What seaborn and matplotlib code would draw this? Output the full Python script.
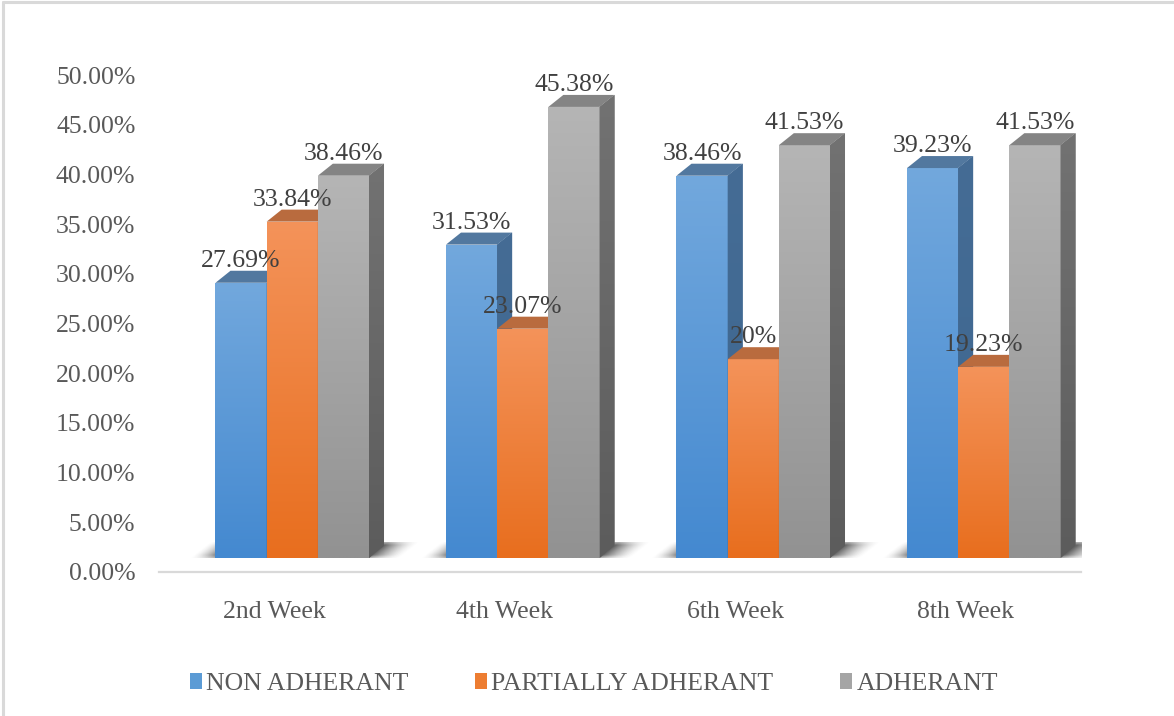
import numpy as np
import pandas as pd
import matplotlib
matplotlib.use("Agg")
import matplotlib.pyplot as plt
import seaborn as sns
from matplotlib.patches import Polygon, Patch
from matplotlib.lines import Line2D
from matplotlib.colors import to_rgb
from matplotlib.font_manager import FontProperties

# ---- data -------------------------------------------------------------
weeks = ["2nd Week", "4th Week", "6th Week", "8th Week"]
series = ["NON ADHERANT", "PARTIALLY ADHERANT", "ADHERANT"]
non_adherant = [27.69, 31.53, 38.46, 39.23]
partially_adherant = [33.84, 23.07, 20, 19.23]
adherant = [38.46, 45.38, 41.53, 41.53]
y_ticks = [0, 5, 10, 15, 20, 25, 30, 35, 40, 45, 50]

df = pd.DataFrame({
    "week": weeks * 3,
    "group": [s for s in series for _ in weeks],
    "pct": non_adherant + partially_adherant + adherant,
})

# ---- style ------------------------------------------------------------
legend_colors = ["#5b9bd5", "#ed7d31", "#a5a5a5"]
front_top = ["#72a8dd", "#f4935a", "#b5b5b5"]
front_bot = ["#4489d0", "#e86e1e", "#929292"]
side_top = ["#456c95", "#b4622f", "#727272"]
side_bot = ["#3d6790", "#a9582a", "#5c5c5c"]
roof = ["#52789f", "#b96b3e", "#848484"]

W, H, DPI = 1174, 716, 100
sns.set_style("white")
plt.rcParams["font.family"] = ["Liberation Serif", "DejaVu Serif"]
FS = 18.5
serif = FontProperties(family=["Liberation Serif", "DejaVu Serif"], size=FS)

fig = plt.figure(figsize=(W / DPI, H / DPI), dpi=DPI)
ax_l, ax_r, ax_t, ax_b = 159, 1081, 75, 572
ax = fig.add_axes([ax_l / W, 1 - ax_b / H, (ax_r - ax_l) / W, (ax_b - ax_t) / H])

sns.barplot(data=df, x="week", y="pct", hue="group", order=weeks,
            hue_order=series, palette=legend_colors, width=0.666,
            saturation=1, legend=False, ax=ax, errorbar=None,
            edgecolor="none", linewidth=0)

XLIM, YLIM = (-0.5, 3.5), (0, 50)
px_x = (ax_r - ax_l) / (XLIM[1] - XLIM[0])   # pixels per category unit
px_y = (ax_b - ax_t) / (YLIM[1] - YLIM[0])   # pixels per percent

LIFT = 14 / px_y      # bars stand on a floor slightly above the axis line
SHIFT = 18 / px_x     # floor depth pushes the bars to the right
DX, DY = 15 / px_x, 12 / px_y   # 3D depth offset


def vgrad(x0, x1, y0, y1, c_top, c_bot, clip, z):
    t = np.linspace(0, 1, 128)[:, None, None]
    arr = (1 - t) * np.array(to_rgb(c_top)) + t * np.array(to_rgb(c_bot))
    im = ax.imshow(arr, extent=[x0, x1, y0, y1], origin="upper",
                   aspect="auto", zorder=z, interpolation="bilinear")
    im.set_clip_path(clip)


bars = list(ax.patches)
n = len(weeks)
groups = {}
for i, p in enumerate(bars):
    k = i // n
    p.set_x(p.get_x() + SHIFT)
    p.set_y(LIFT)
    x0, w, h = p.get_x(), p.get_width(), p.get_height()
    x1, y0, y1 = x0 + w, LIFT, LIFT + h
    p.set_zorder(3 + k)
    vgrad(x0, x1, y0, y1, front_top[k], front_bot[k], p, 3 + k + 0.01)
    side = Polygon([(x1, y0), (x1 + DX, y0 + DY), (x1 + DX, y1 + DY), (x1, y1)],
                   closed=True, facecolor=side_top[k], edgecolor="none",
                   zorder=3 + k + 0.02)
    ax.add_patch(side)
    vgrad(x1, x1 + DX, y0, y1 + DY, side_top[k], side_bot[k], side, 3 + k + 0.03)
    top = Polygon([(x0, y1), (x1, y1), (x1 + DX, y1 + DY), (x0 + DX, y1 + DY)],
                  closed=True, facecolor=roof[k], edgecolor="none",
                  zorder=3 + k + 0.04)
    ax.add_patch(top)
    label = f"{h:g}%"
    ax.annotate(label, ((x0 + x1) / 2, y1), xytext=(0, 11.5),
                textcoords="offset points", ha="center", va="baseline",
                fontproperties=serif, color="#404040", zorder=20)
    col = round(p.get_x() + w / 2 - SHIFT)
    groups.setdefault(col, []).append((x0, x1))

# soft floor shadow around each group of bars
for col, spans in groups.items():
    gl = min(s[0] for s in spans)
    gr = max(s[1] for s in spans)
    ex0, ex1 = gl - 40 / px_x, gr + 60 / px_x
    ey0, ey1 = LIFT, LIFT + 16 / px_y
    nx, ny = 300, 40
    xs = np.linspace(ex0, ex1, nx)
    ys = np.linspace(ey1, ey0, ny)
    X, Y = np.meshgrid(xs, ys)
    u = (X - gl) * px_x - 1.25 * (Y - LIFT) * px_y   # skewed pixel coordinate
    right = (gr - gl) * px_x
    a_left = np.clip(1 + u / 26, 0, 1)
    a_right = np.clip(1 - (u - right) / 32, 0, 1)
    py = (Y - LIFT) * px_y
    soft = np.clip(np.minimum(py, 16 - py) / 3.0, 0, 1)
    alpha = 0.68 * np.minimum(a_left, a_right) ** 1.6 * (0.5 + 0.5 * soft)
    rgba = np.zeros((ny, nx, 4))
    rgba[..., :3] = 0.12
    rgba[..., 3] = alpha
    ax.imshow(rgba, extent=[ex0, ex1, ey0, ey1], origin="upper",
              aspect="auto", zorder=2, interpolation="bilinear")

ax.set_xlim(*XLIM)
ax.set_ylim(*YLIM)
ax.set_yticks(y_ticks)
ax.set_yticklabels([f"{v:.2f}%" for v in y_ticks])
ax.set_xlabel("")
ax.set_ylabel("")
ax.tick_params(axis="y", length=0, pad=17, labelsize=FS, labelcolor="#595959")
ax.tick_params(axis="x", length=0, pad=21, labelsize=FS, labelcolor="#595959")
for s in ["top", "right", "left"]:
    ax.spines[s].set_visible(False)
ax.spines["bottom"].set_color("#d9d9d9")
ax.spines["bottom"].set_linewidth(1.6)
ax.spines["bottom"].set_zorder(1)
ax.set_facecolor("none")

handles = [Patch(facecolor=c, edgecolor="none") for c in legend_colors]
fig.legend(handles, series, loc="center", bbox_to_anchor=(594 / W, 1 - 684 / H),
           ncol=3, frameon=False, prop=serif, labelcolor="#595959",
           handlelength=0.47, handleheight=0.58, handletextpad=0.16,
           columnspacing=2.6)

# chart-area frame
frame = dict(color="#d9d9d9", linewidth=2.2, transform=fig.transFigure)
fig.add_artist(Line2D([3 / W, 3 / W], [0, 1 - 2 / H], **frame))
fig.add_artist(Line2D([3 / W, 1], [1 - 2 / H, 1 - 2 / H], **frame))

fig.savefig("out.png", dpi=DPI, facecolor="white")
